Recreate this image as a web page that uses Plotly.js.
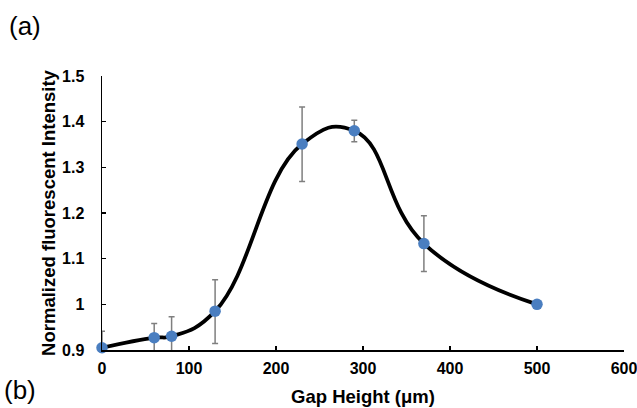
<!DOCTYPE html>
<html>
<head>
<meta charset="utf-8">
<script src="https://cdn.plot.ly/plotly-3.0.1.min.js"></script>
<style>html,body{margin:0;padding:0;background:#fff;}#chart{width:637px;height:408px;}</style>
</head>
<body>
<div id="chart"></div>
<script>
// Data
var gapHeight = [0, 60, 80, 130, 230, 290, 370, 500];
var intensity = [0.905, 0.927, 0.930, 0.985, 1.351, 1.380, 1.133, 1.000];
var errPlus   = [0.036, 0.031, 0.043, 0.069, 0.081, 0.023, 0.061, 0];
var errMinus  = [0.036, 0.031, 0.043, 0.071, 0.082, 0.024, 0.061, 0];
var yTickVals = [0.9, 1.0, 1.1, 1.2, 1.3, 1.4, 1.5];
var yTickText = ['0.9', '1', '1.1', '1.2', '1.3', '1.4', '1.5'];
var xTickVals = [0, 100, 200, 300, 400, 500, 600];

var font = 'Liberation Sans, Arial, sans-serif';

var traces = [
  {
    x: gapHeight, y: intensity, type: 'scatter', mode: 'lines',
    line: {color: '#000000', width: 3.8, shape: 'spline', smoothing: 1.3},
    cliponaxis: true, hoverinfo: 'skip', showlegend: false
  },
  {
    x: gapHeight, y: intensity, type: 'scatter', mode: 'markers',
    marker: {color: 'rgba(0,0,0,0)', size: 1},
    error_y: {type: 'data', array: errPlus, arrayminus: errMinus, symmetric: false,
              color: '#7f7f7f', thickness: 1.5, width: 3},
    cliponaxis: true, showlegend: false
  },
  {
    x: gapHeight, y: intensity, type: 'scatter', mode: 'markers',
    marker: {color: '#4a7ec0', size: 11.5},
    cliponaxis: false, showlegend: false
  }
];

var layout = {
  width: 637, height: 408,
  margin: {l: 101.5, r: 12.5, t: 76, b: 57.5},
  paper_bgcolor: '#ffffff', plot_bgcolor: '#ffffff',
  font: {family: font, color: '#000000'},
  showlegend: false,
  xaxis: {
    range: [0, 600], tickvals: xTickVals, ticktext: xTickVals.map(String),
    showgrid: false, zeroline: false,
    showline: true, linecolor: '#000000', linewidth: 1.5,
    ticks: 'inside', ticklen: 4, tickwidth: 1.5, tickcolor: '#000000',
    ticklabelstandoff: 3, ticklabeloverflow: 'allow',
    tickfont: {family: font, size: 16, color: '#000000', weight: 'bold'},
    title: {text: '<b>Gap Height (μm)</b>', font: {family: font, size: 18.5, color: '#000000'}, standoff: 14}
  },
  yaxis: {
    range: [0.9, 1.5], tickvals: yTickVals, ticktext: yTickText,
    showgrid: false, zeroline: false,
    showline: true, linecolor: '#000000', linewidth: 1.5,
    ticks: 'inside', ticklen: 4, tickwidth: 1.5, tickcolor: '#000000',
    ticklabelstandoff: 13,
    tickfont: {family: font, size: 16, color: '#000000', weight: 'bold'},
    title: {text: '<b>Normalized fluorescent Intensity</b>', font: {family: font, size: 18.5, color: '#000000'}, standoff: 1}
  },
  annotations: [
    {text: '(a)', xref: 'paper', yref: 'paper', x: 0, y: 1, xanchor: 'left', yanchor: 'middle',
     showarrow: false, font: {family: font, size: 26, color: '#000000'}},
    {text: '(b)', xref: 'paper', yref: 'paper', x: 0, y: 0, xanchor: 'left', yanchor: 'middle',
     showarrow: false, font: {family: font, size: 26, color: '#000000'}}
  ]
};

// Position (a) and (b) by pixel via paper coords
var plotW = 637 - 101.5 - 12.5, plotH = 408 - 76 - 57.5;
layout.annotations[0].x = (6 - 101.5) / plotW;
layout.annotations[0].y = (408 - 57.5 - 26) / plotH;
layout.annotations[1].x = (1 - 101.5) / plotW;
layout.annotations[1].y = (408 - 57.5 - 391) / plotH;

Plotly.newPlot('chart', traces, layout, {displayModeBar: false, staticPlot: true});
</script>
</body>
</html>
